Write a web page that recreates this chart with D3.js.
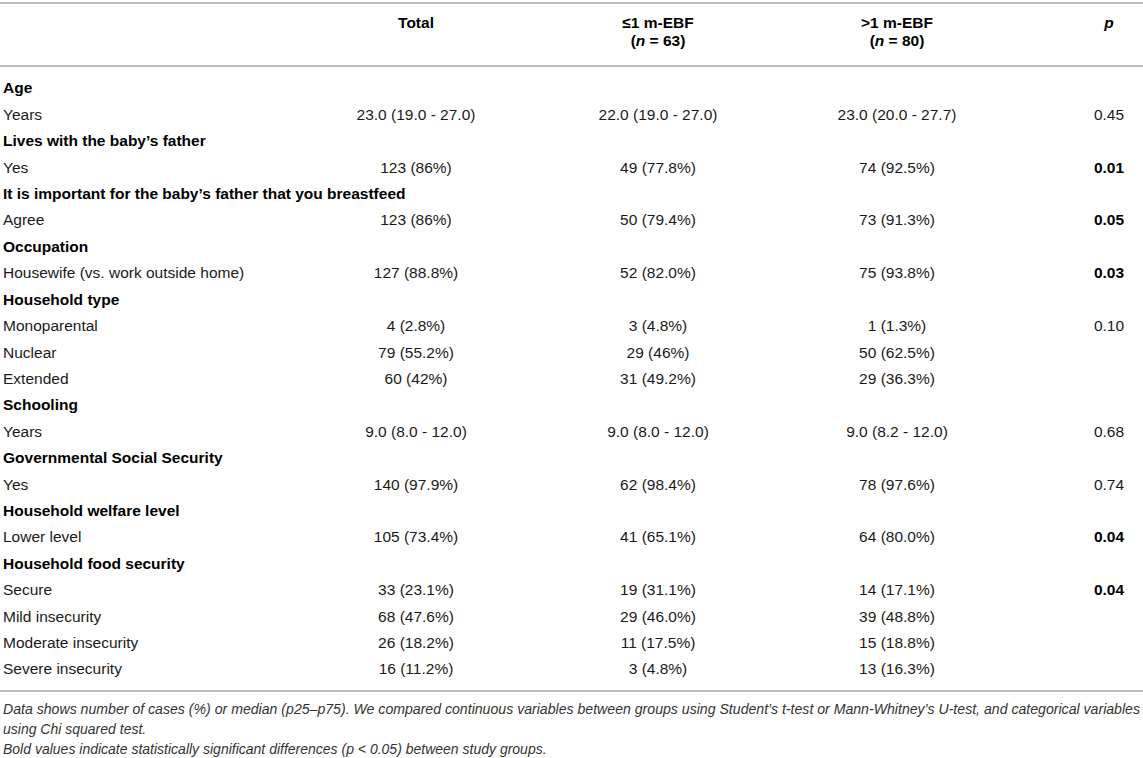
<!DOCTYPE html>
<html>
<head>
<meta charset="utf-8">
<script src="https://d3js.org/d3.v7.min.js"></script>
<style>
  body {
    margin: 0;
    background: #fff;
    font-family: "Liberation Sans", Arial, Helvetica, sans-serif;
  }
  svg text {
    font-size: 15.5px;
    fill: #1a1a1a;
  }
  .head text, text.group, text.sig {
    font-weight: bold;
    fill: #000;
  }
  .note text {
    font-size: 14px;
    font-style: italic;
    fill: #333;
  }
  .rule {
    stroke: #bdbdbd;
    stroke-width: 2px;
  }
</style>
</head>
<body>
<script>
  // table content
  var rowLabels = [
    "Age", "Years",
    "Lives with the baby\u2019s father", "Yes",
    "It is important for the baby\u2019s father that you breastfeed", "Agree",
    "Occupation", "Housewife (vs. work outside home)",
    "Household type", "Monoparental", "Nuclear", "Extended",
    "Schooling", "Years",
    "Governmental Social Security", "Yes",
    "Household welfare level", "Lower level",
    "Household food security", "Secure", "Mild insecurity", "Moderate insecurity", "Severe insecurity"
  ];
  var groupRow = [1,0, 1,0, 1,0, 1,0, 1,0,0,0, 1,0, 1,0, 1,0, 1,0,0,0,0];

  var totalVals = ["", "23.0 (19.0 - 27.0)", "", "123 (86%)", "", "123 (86%)", "", "127 (88.8%)",
    "", "4 (2.8%)", "79 (55.2%)", "60 (42%)", "", "9.0 (8.0 - 12.0)", "", "140 (97.9%)",
    "", "105 (73.4%)", "", "33 (23.1%)", "68 (47.6%)", "26 (18.2%)", "16 (11.2%)"];
  var lowEbfVals = ["", "22.0 (19.0 - 27.0)", "", "49 (77.8%)", "", "50 (79.4%)", "", "52 (82.0%)",
    "", "3 (4.8%)", "29 (46%)", "31 (49.2%)", "", "9.0 (8.0 - 12.0)", "", "62 (98.4%)",
    "", "41 (65.1%)", "", "19 (31.1%)", "29 (46.0%)", "11 (17.5%)", "3 (4.8%)"];
  var highEbfVals = ["", "23.0 (20.0 - 27.7)", "", "74 (92.5%)", "", "73 (91.3%)", "", "75 (93.8%)",
    "", "1 (1.3%)", "50 (62.5%)", "29 (36.3%)", "", "9.0 (8.2 - 12.0)", "", "78 (97.6%)",
    "", "64 (80.0%)", "", "14 (17.1%)", "39 (48.8%)", "15 (18.8%)", "13 (16.3%)"];
  var pVals = ["", "0.45", "", "0.01", "", "0.05", "", "0.03",
    "", "0.10", "", "", "", "0.68", "", "0.74",
    "", "0.04", "", "0.04", "", "", ""];
  var pSignificant = [0,0, 0,1, 0,1, 0,1, 0,0,0,0, 0,0, 0,0, 0,1, 0,1,0,0,0];

  var columns = ["label", "total", "low", "high", "p"];
  var headLine1 = ["", "Total", "\u22641 m-EBF", ">1 m-EBF", "p"];
  var headGroupN = ["", "", "63", "80", ""];

  var notes = [
    "Data shows number of cases (%) or median (p25\u2013p75). We compared continuous variables between groups using Student\u2019s t-test or Mann-Whitney\u2019s U-test, and categorical variables",
    "using Chi squared test.",
    "Bold values indicate statistically significant differences (p < 0.05) between study groups."
  ];

  var width = 1143, height = 758;

  var svg = d3.select("body").append("svg")
      .attr("width", width)
      .attr("height", height);

  var x = d3.scaleOrdinal()
      .domain(columns)
      .range([3, 416, 658, 897, 1109]);

  var y = d3.scalePoint()
      .domain(d3.range(rowLabels.length))
      .range([88, 669]);

  // rules
  svg.selectAll(".rule")
      .data([3, 66, 691])
    .enter().append("line")
      .attr("class", "rule")
      .attr("x1", 0)
      .attr("x2", width)
      .attr("y1", d => d)
      .attr("y2", d => d);

  // header
  var head = svg.append("g").attr("class", "head");

  head.selectAll(".h1")
      .data(columns.slice(1))
    .enter().append("text")
      .attr("x", d => x(d))
      .attr("y", 23)
      .attr("dy", "0.35em")
      .attr("text-anchor", "middle")
      .style("font-style", d => d == "p" ? "italic" : null)
      .text((d, i) => headLine1[i + 1]);

  var nLabels = head.selectAll(".h2")
      .data(columns.filter((c, i) => headGroupN[i] != ""))
    .enter().append("text")
      .attr("x", d => x(d))
      .attr("y", 41)
      .attr("dy", "0.35em")
      .attr("text-anchor", "middle");

  nLabels.append("tspan").text("(");
  nLabels.append("tspan").style("font-style", "italic").text("n");
  nLabels.append("tspan").text(d => " = " + headGroupN[columns.indexOf(d)] + ")");

  // body rows
  var rows = svg.selectAll(".row")
      .data(rowLabels.map((label, i) => ({
        i: i, label: label, total: totalVals[i], low: lowEbfVals[i],
        high: highEbfVals[i], p: pVals[i]
      })))
    .enter().append("g")
      .attr("class", "row")
      .attr("transform", d => `translate(0,${y(d.i)})`);

  rows.append("text")
      .attr("class", d => groupRow[d.i] ? "group" : null)
      .attr("x", x("label"))
      .attr("dy", "0.35em")
      .text(d => d.label);

  ["total", "low", "high", "p"].forEach(function(col) {
    rows.filter(d => d[col] != "")
      .append("text")
        .attr("class", d => col == "p" && pSignificant[d.i] ? "sig" : null)
        .attr("x", x(col))
        .attr("dy", "0.35em")
        .attr("text-anchor", "middle")
        .text(d => d[col]);
  });

  // footnotes
  svg.append("g")
      .attr("class", "note")
    .selectAll("text")
      .data(notes)
    .enter().append("text")
      .attr("x", 3)
      .attr("y", (d, i) => 709 + i * 20)
      .attr("dy", "0.35em")
      .attr("textLength", (d, i) => i == 0 ? 1137 : null)
      .attr("lengthAdjust", "spacingAndGlyphs")
      .text(d => d);
</script>
</body>
</html>
